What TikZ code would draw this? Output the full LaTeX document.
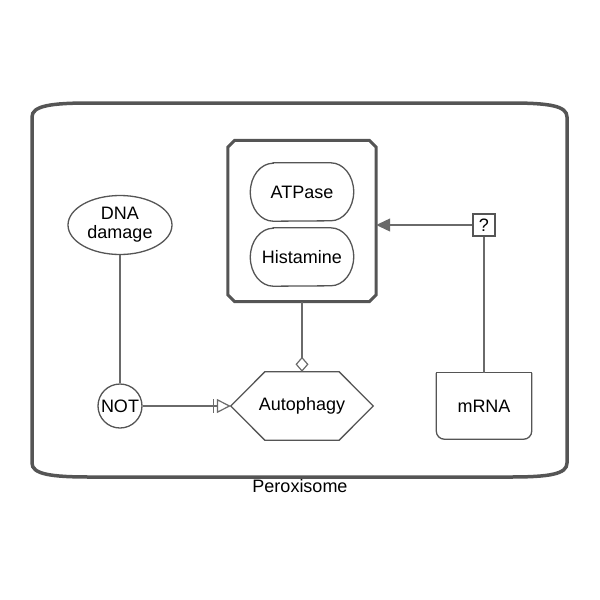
\documentclass[tikz,border=0pt]{standalone}
\usepackage{fontspec}
\setmainfont{Liberation Sans}
\usetikzlibrary{arrows.meta,calc,shapes.geometric}
\definecolor{Edge}{HTML}{555555}
\definecolor{Thin}{HTML}{6A6A6A}

\begin{document}
\begin{tikzpicture}[x=1pt,y=-1pt,every node/.style={align=center,inner sep=0pt,font=\fontsize{18}{19}\selectfont},
  glyph/.style={draw=Edge,line width=1.3pt},
  macro/.style={minimum width=103pt,minimum height=58pt},
  arc/.style={draw=Thin,line width=1.2pt}]
  \useasboundingbox (0,0) rectangle (600,600);
  % compartment
  \draw[draw=Edge,line width=3.5pt] (32,117) .. controls (32,106) and (50,103) .. (90,103) -- (510,103)
    .. controls (550,103) and (567,106) .. (567,117) -- (567,463) .. controls (567,474) and (550,477) .. (510,477)
    -- (90,477) .. controls (50,477) and (32,474) .. (32,463) -- cycle;
  \node (lbl) at (300,486) {Peroxisome};
  % complex
  \node[minimum width=148pt,minimum height=161pt] (cplx) at (302,221) {};
  \draw[draw=Edge,line width=3pt] ($(cplx.north west)+(0,7)$) -- ($(cplx.north west)+(7,0)$)
    -- ($(cplx.north east)+(-7,0)$) -- ($(cplx.north east)+(0,7)$) -- ($(cplx.south east)+(0,-7)$)
    -- ($(cplx.south east)+(-7,0)$) -- ($(cplx.south west)+(7,0)$) -- ($(cplx.south west)+(0,-7)$) -- cycle;
  \node[macro] (atp) at (302,192) {ATPase};
  \node[macro] (hist) at (302,257) {Histamine};
  \foreach \m in {atp,hist}
    \draw[glyph] ($(\m.north west)+(23,0)$) -- ($(\m.north east)+(-23,0)$)
      arc[start angle=90,end angle=-90,x radius=23pt,y radius=29pt]
      -- ($(\m.south west)+(23,0)$) arc[start angle=270,end angle=90,x radius=23pt,y radius=29pt] -- cycle;
  \node[glyph,ellipse,minimum width=104pt,minimum height=59pt] (dna) at (120,225) {DNA\\damage};
  \node[glyph,circle,minimum size=44pt] (not) at (120,406) {NOT};
  % phenotype
  \node[minimum width=142pt,minimum height=68pt] (auto) at (302,406) {Autophagy};
  \draw[glyph] (auto.west) -- ($(auto.north west)+(34,0)$) -- ($(auto.north east)+(-34,0)$) -- (auto.east)
    -- ($(auto.south east)+(-34,0)$) -- ($(auto.south west)+(34,0)$) -- cycle;
  \node[glyph,minimum size=22pt] (unc) at (484,225) {?};
  % nucleic acid feature
  \node[minimum width=95pt,minimum height=66pt] (mrna) at (484,406) {mRNA};
  \draw[glyph,rounded corners=8pt] (mrna.north west) -- (mrna.south west) -- (mrna.south east) -- (mrna.north east);
  \draw[glyph] (mrna.north west) -- (mrna.north east);
  % arcs
  \draw[arc] (dna) -- (not);
  \draw[arc,-{Bar[width=14pt,sep=3pt]Triangle[open,length=14pt,width=14pt]}] (not) -- (auto.west);
  \draw[arc,-{Diamond[open,length=15pt,width=13pt]}] (cplx.south) -- (auto.north);
  \draw[arc,-{Triangle[length=14pt,width=13pt]}] (unc.west) -- (unc.west -| cplx.east);
  \draw[arc] (unc) -- (mrna);
\end{tikzpicture}
\end{document}
